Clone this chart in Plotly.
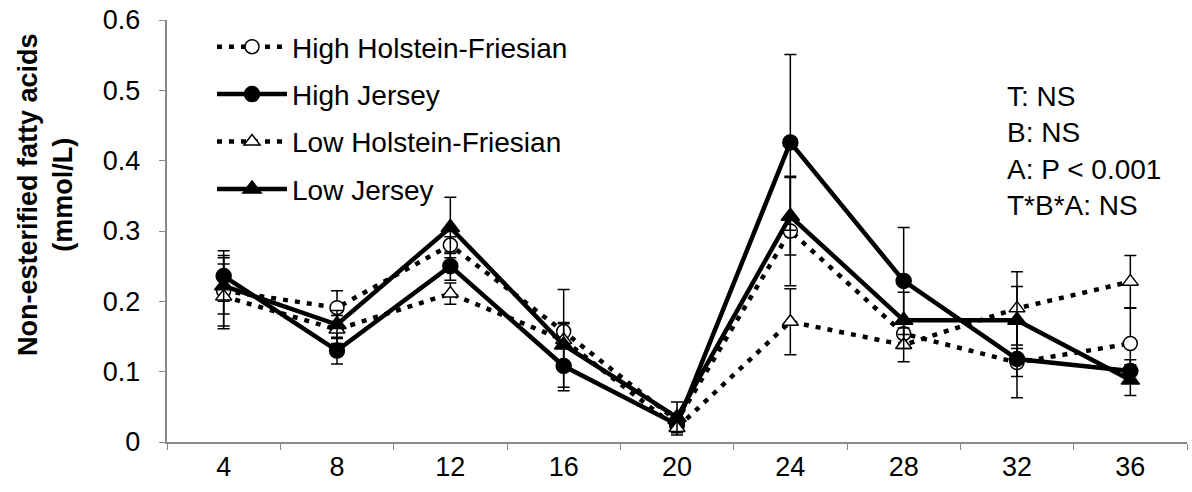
import plotly.graph_objects as go

weeks = ["4", "8", "12", "16", "20", "24", "28", "32", "36"]

high_hf = [0.215, 0.191, 0.280, 0.157, 0.030, 0.300, 0.154, 0.113, 0.140]
high_hf_err = [0.050, 0.024, 0.012, 0.013, 0.010, 0.078, 0.020, 0.020, 0.050]

high_j = [0.236, 0.130, 0.250, 0.108, 0.025, 0.426, 0.229, 0.118, 0.101]
high_j_err = [0.036, 0.019, 0.020, 0.030, 0.010, 0.125, 0.076, 0.055, 0.016]

low_hf = [0.207, 0.160, 0.211, 0.145, 0.020, 0.171, 0.138, 0.190, 0.228]
low_hf_err = [0.046, 0.020, 0.015, 0.072, 0.010, 0.047, 0.024, 0.052, 0.037]

low_j = [0.222, 0.167, 0.305, 0.138, 0.035, 0.321, 0.173, 0.173, 0.088]
low_j_err = [0.040, 0.020, 0.043, 0.030, 0.022, 0.055, 0.040, 0.048, 0.022]

stats_lines = ["T: NS", "B: NS", "A: P < 0.001", "T*B*A: NS"]

FONT = "Liberation Sans, Arial, sans-serif"
FS = 28
fig = go.Figure()

series = [
    ("High Holstein-Friesian", high_hf, high_hf_err, "5px,7px", 4.5, "circle", "white", 14),
    ("High Jersey", high_j, high_j_err, "solid", 4.5, "circle", "black", 15),
    ("Low Holstein-Friesian", low_hf, low_hf_err, "5px,7px", 4.5, "triangle-up", "white", 14),
    ("Low Jersey", low_j, low_j_err, "solid", 4.5, "triangle-up", "black", 16),
]

for i, (name, vals, errs, dash, lw, sym, fill, msz) in enumerate(series):
    fig.add_trace(go.Scatter(
        x=weeks, y=vals, name=name, mode="lines+markers",
        line=dict(color="black", width=lw, dash=dash),
        marker=dict(symbol=sym, size=msz, color=fill, line=dict(color="black", width=1.5)),
        error_y=dict(type="data", array=errs, visible=True, color="black", thickness=1.5, width=6),
        legendgroup=f"g{i}",
    ))

fig.add_annotation(
    text="<br>".join(stats_lines), xref="paper", yref="paper",
    x=(1005 - 167) / 1020, y=(442 - 79) / 422, xanchor="left", yanchor="top",
    align="left", showarrow=False, font=dict(family=FONT, size=FS, color="black"),
)

fig.add_annotation(
    text="<b>Non-esterified fatty acids<br>(mmol/L)</b>", xref="paper", yref="paper",
    x=(45 - 167) / 1020, y=(442 - 195) / 422, xanchor="center", yanchor="middle",
    textangle=-90, showarrow=False, font=dict(family=FONT, size=FS - 1, color="black"),
)

fig.update_layout(
    width=1192, height=492,
    margin=dict(l=167, r=5, t=20, b=50),
    paper_bgcolor="white", plot_bgcolor="white",
    font=dict(family=FONT, size=FS, color="black"),
    showlegend=True,
    legend=dict(
        x=(212 - 167) / 1020, y=(442 - 22) / 422, xanchor="left", yanchor="top",
        bgcolor="rgba(0,0,0,0)", font=dict(family=FONT, size=FS, color="black"),
        tracegroupgap=8, itemwidth=70,
    ),
    xaxis=dict(
        type="category", tickson="boundaries", ticks="outside", ticklen=6,
        tickcolor="#898989", showline=True, linecolor="#898989", linewidth=1.5,
        showgrid=False, range=[-0.5, 8.5], tickfont=dict(size=FS - 1),
    ),
    yaxis=dict(
        range=[0, 0.6], dtick=0.1, ticks="outside", ticklen=6,
        tickcolor="#898989", showline=True, linecolor="#898989", linewidth=1.5,
        showgrid=False, zeroline=False, tickfont=dict(size=FS - 1),
        ticksuffix="\u2002",
    ),
)

fig.write_html("out.html")
